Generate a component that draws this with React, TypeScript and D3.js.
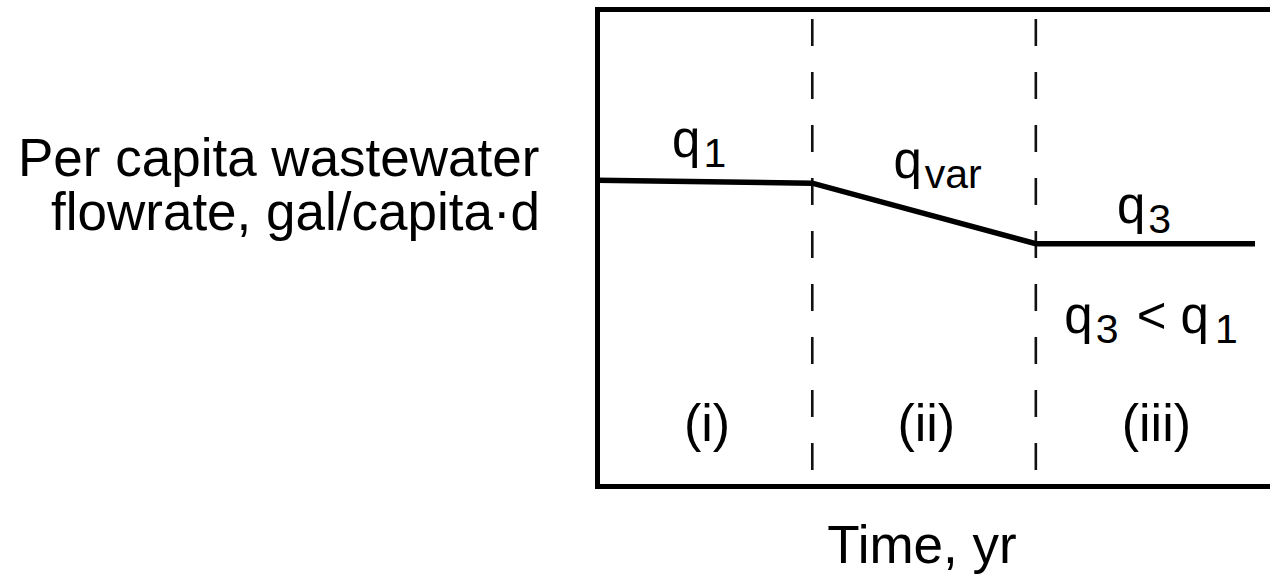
import { useRef, useEffect } from 'react';
import * as d3 from 'd3';

// stage boundaries along the time axis (yr, relative) and the per capita flowrate there
const stageTimes = [0, 0.98, 2.0, 3.0];
const flowrate = [64.2, 63.6, 50.9, 50.9];
const stageLabels = ['(i)', '(ii)', '(iii)'];
const stageLabelTimes = [0.5, 1.5, 2.55];
const yTitleLines = ['Per capita wastewater', 'flowrate, gal/capita·d'];
const xTitle = 'Time, yr';

const FONT = '"Liberation Sans", Arial, Helvetica, sans-serif';

const App = () => {
  const svgRef = useRef<SVGSVGElement | null>(null);

  useEffect(() => {
    const width = 1270;
    const height = 575;
    const frame = { left: 597.5, top: 9.5, bottom: 486.5 };

    const svg = d3.select(svgRef.current);
    svg.selectAll('*').remove();
    svg.attr('viewBox', `0 0 ${width} ${height}`);

    const x = d3.scaleLinear().domain([0, 3]).range([frame.left, 1255]);
    const y = d3.scaleLinear().domain([0, 100]).range([frame.bottom, frame.top]);

    // dashed stage separators
    svg.selectAll('.sep')
      .data(stageTimes.slice(1, 3))
      .enter()
      .append('line')
      .attr('class', 'sep')
      .attr('x1', d => x(d))
      .attr('x2', d => x(d))
      .attr('y1', frame.top)
      .attr('y2', frame.bottom)
      .attr('stroke', '#111')
      .attr('stroke-width', 2.6)
      .attr('stroke-dasharray', '27 26')
      .attr('stroke-dashoffset', 43.5);

    // open frame (runs off the right edge)
    const xr = x(3.1);
    svg.append('path')
      .attr('d', `M${xr},${frame.top}H${frame.left}V${frame.bottom}H${xr}`)
      .attr('fill', 'none')
      .attr('stroke', '#000')
      .attr('stroke-width', 5)
      .attr('stroke-linejoin', 'miter');

    const line = d3.line<number>()
      .x((d, i) => x(stageTimes[i]))
      .y(d => y(d));

    svg.append('path')
      .datum(flowrate)
      .attr('d', line)
      .attr('fill', 'none')
      .attr('stroke', '#000')
      .attr('stroke-width', 5.5)
      .attr('stroke-linejoin', 'miter')
      .attr('stroke-linecap', 'butt');

    const label = (tx: number, ty: number, base: string, sub: string, rest?: [string, string]) => {
      const t = svg.append('text')
        .attr('x', x(tx))
        .attr('y', ty)
        .attr('font-family', FONT)
        .attr('font-size', 51)
        .attr('fill', '#000');
      t.append('tspan').text(base);
      t.append('tspan').attr('dx', 3).attr('dy', 10).attr('font-size', 41).text(sub);
      if (rest) {
        t.append('tspan').attr('dx', 4).attr('dy', -10).text(rest[0]);
        t.append('tspan').attr('dx', 6).attr('dy', 10).attr('font-size', 41).text(rest[1]);
      }
    };

    label(0.34, y(flowrate[0]) - 23, 'q', '1');
    label(1.35, y(flowrate[1]) - 5, 'q', 'var');
    label(2.37, y(flowrate[2]) - 21, 'q', '3');
    label(2.13, 333, 'q', '3', [' < q', '1']);

    svg.selectAll('.stage')
      .data(stageLabels)
      .enter()
      .append('text')
      .attr('class', 'stage')
      .attr('x', (d, i) => x(stageLabelTimes[i]))
      .attr('y', 441)
      .attr('text-anchor', 'middle')
      .attr('font-family', FONT)
      .attr('font-size', 52)
      .attr('fill', '#000')
      .text(d => d);

    svg.append('text')
      .attr('x', 922)
      .attr('y', 563)
      .attr('text-anchor', 'middle')
      .attr('font-family', FONT)
      .attr('font-size', 53)
      .attr('fill', '#000')
      .text(xTitle);

    svg.selectAll('.ytitle')
      .data(yTitleLines)
      .enter()
      .append('text')
      .attr('class', 'ytitle')
      .attr('x', (d, i) => (i === 0 ? 18 : 51))
      .attr('y', (d, i) => 176 + i * 54)
      .attr('font-family', FONT)
      .attr('font-size', 53)
      .attr('fill', '#000')
      .text(d => d);
  }, []);

  return (
    <div style={{ position: 'absolute', left: 0, top: 0, width: 1270, height: 575, background: '#fff' }}>
      <svg ref={svgRef} width={1270} height={575} style={{ display: 'block' }}></svg>
    </div>
  );
};

export default App;
